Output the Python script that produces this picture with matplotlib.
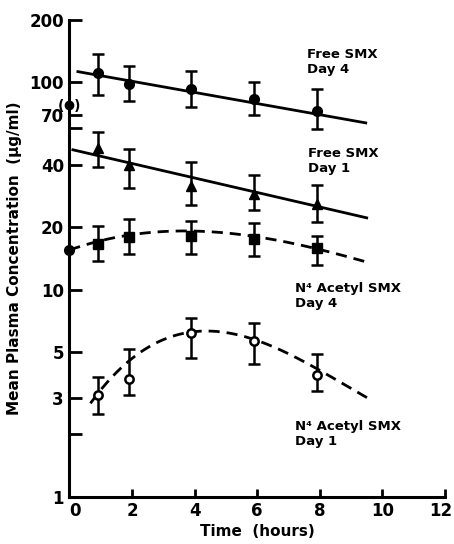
import numpy as np
import matplotlib
matplotlib.use('Agg')
import matplotlib.pyplot as plt
import matplotlib.transforms as mtransforms
from matplotlib.ticker import FixedLocator, NullFormatter

# time points (hours)
t_pts = [0.9, 1.9, 3.9, 5.9, 7.9]

# Free SMX day 4 (filled circles)
free4 = [111, 98, 93.5, 83, 72.8]
free4_lo = [87, 81, 76, 70, 59.7]
free4_hi = [138, 120, 114, 100.8, 92.9]
free4_line_t = [0.27, 9.47]
free4_line_y = [112.8, 63.8]
free4_pre = 78  # predose value, shown in brackets

# Free SMX day 1 (triangles)
free1 = [48.2, 40, 31.7, 29, 26]
free1_lo = [39.2, 31, 25.5, 24.1, 21.3]
free1_hi = [57.5, 47.9, 41.5, 35.7, 32.1]
free1_line_t = [0.11, 9.5]
free1_line_y = [47.3, 22.2]

# N4 acetyl SMX day 4 (squares)
acet4_t0 = 15.6
acet4 = [16.6, 18, 18.2, 17.5, 15.85]
acet4_lo = [13.8, 14.8, 14.8, 14.5, 13.2]
acet4_hi = [20.2, 21.9, 21.4, 21, 18.2]
acet4_curve_t = [0, 1, 2, 3, 4, 6, 8, 9.5]
acet4_curve_y = [15.6, 16.9, 18.7, 19.2, 19.1, 17.7, 15.85, 13.5]

# N4 acetyl SMX day 1 (open circles)
acet1 = [3.1, 3.71, 6.15, 5.64, 3.88]
acet1_lo = [2.52, 3.11, 4.68, 4.39, 3.25]
acet1_hi = [3.8, 5.14, 7.33, 6.88, 4.86]
acet1_curve_t = [0.67, 2, 4, 4.2, 6, 8, 9.55]
acet1_curve_y = [2.8, 4.73, 6.22, 6.3, 5.6, 4.15, 2.96]

yticks = [1, 3, 5, 10, 20, 40, 70, 100, 200]
ytick_labels = ['1', '3', '5', '10', '20', '40', '70', '100', '200']
xticks = [0, 2, 4, 6, 8, 10, 12]

plt.rcParams['font.family'] = 'DejaVu Sans'
plt.rcParams['font.weight'] = 'bold'

fig = plt.figure(figsize=(4.54, 5.44), dpi=100)
ax = fig.add_axes([0.153, 0.087, 0.827, 0.876])
ax.set_yscale('log')
ax.set_xlim(0, 12)
ax.set_ylim(1, 200)

lw = 2.0
eb = dict(ecolor='black', elinewidth=1.8, capsize=4, capthick=1.8, linestyle='none')


def errs(v, lo, hi):
    v = np.array(v)
    return [v - np.array(lo), np.array(hi) - v]


def smooth(ts, ys, deg):
    c = np.polyfit(ts, np.log10(ys), deg)
    tt = np.linspace(ts[0], ts[-1], 200)
    return tt, 10 ** np.polyval(c, tt)


# free SMX day 4
ax.plot(free4_line_t, free4_line_y, color='black', lw=lw)
ax.errorbar(t_pts, free4, yerr=errs(free4, free4_lo, free4_hi), marker='o',
            ms=7, mfc='black', mec='black', **eb)
ax.plot([0], [free4_pre], marker='o', ms=6, color='black', clip_on=False)
ax.text(0, free4_pre, '(  )', ha='center', va='center_baseline', fontsize=10)

# free SMX day 1
ax.plot(free1_line_t, free1_line_y, color='black', lw=lw)
ax.errorbar(t_pts, free1, yerr=errs(free1, free1_lo, free1_hi), marker='^',
            ms=7, mfc='black', mec='black', **eb)

# acetyl day 4
tt, yy = smooth(acet4_curve_t, acet4_curve_y, 3)
ax.plot(tt, yy, color='black', lw=lw, dashes=(4, 2.5))
ax.errorbar(t_pts, acet4, yerr=errs(acet4, acet4_lo, acet4_hi), marker='s',
            ms=7, mfc='black', mec='black', **eb)
ax.plot([0], [acet4_t0], marker='o', ms=7, color='black', clip_on=False)

# acetyl day 1
tt, yy = smooth(acet1_curve_t, acet1_curve_y, 3)
ax.plot(tt, yy, color='black', lw=lw, dashes=(4, 2.5))
ax.errorbar(t_pts, acet1, yerr=errs(acet1, acet1_lo, acet1_hi), marker='o',
            ms=6, mfc='white', mec='black', mew=1.8, **eb)

# labels on the curves
fs = 9.5
kw = dict(fontsize=fs, fontweight='bold', linespacing=1.25, va='top', ha='left')
ax.text(7.58, 147, 'Free SMX\nDay 4', **kw)
ax.text(7.62, 49, 'Free SMX\nDay 1', **kw)
ax.text(7.2, 10.9, 'N\u2074 Acetyl SMX\nDay 4', **kw)
ax.text(7.2, 2.35, 'N\u2074 Acetyl SMX\nDay 1', **kw)

ax.set_xlabel('Time  (hours)', fontsize=11, fontweight='bold', labelpad=3)
ax.set_ylabel('Mean Plasma Concentration  (\u03bcg/ml)', fontsize=11,
              fontweight='bold', labelpad=5)

ax.yaxis.set_major_locator(FixedLocator(yticks))
ax.set_yticklabels(ytick_labels)
ax.yaxis.set_minor_locator(FixedLocator([2, 60]))
ax.yaxis.set_minor_formatter(NullFormatter())
ax.set_xticks(xticks)
ax.tick_params(axis='y', which='both', direction='in', length=9, width=2,
               labelsize=12, pad=4)
ax.tick_params(axis='x', direction='in', length=6, width=2, labelsize=12, pad=4)

# nudge first and last x tick labels like the original
xlabs = ax.get_xticklabels()
xlabs[0].set_transform(xlabs[0].get_transform() +
                       mtransforms.ScaledTranslation(6 / 100, 0, fig.dpi_scale_trans))
xlabs[-1].set_transform(xlabs[-1].get_transform() +
                        mtransforms.ScaledTranslation(-4 / 100, 0, fig.dpi_scale_trans))

for s in ['top', 'right']:
    ax.spines[s].set_visible(False)
for s in ['left', 'bottom']:
    ax.spines[s].set_linewidth(2.2)

fig.savefig('out.png', dpi=100)
